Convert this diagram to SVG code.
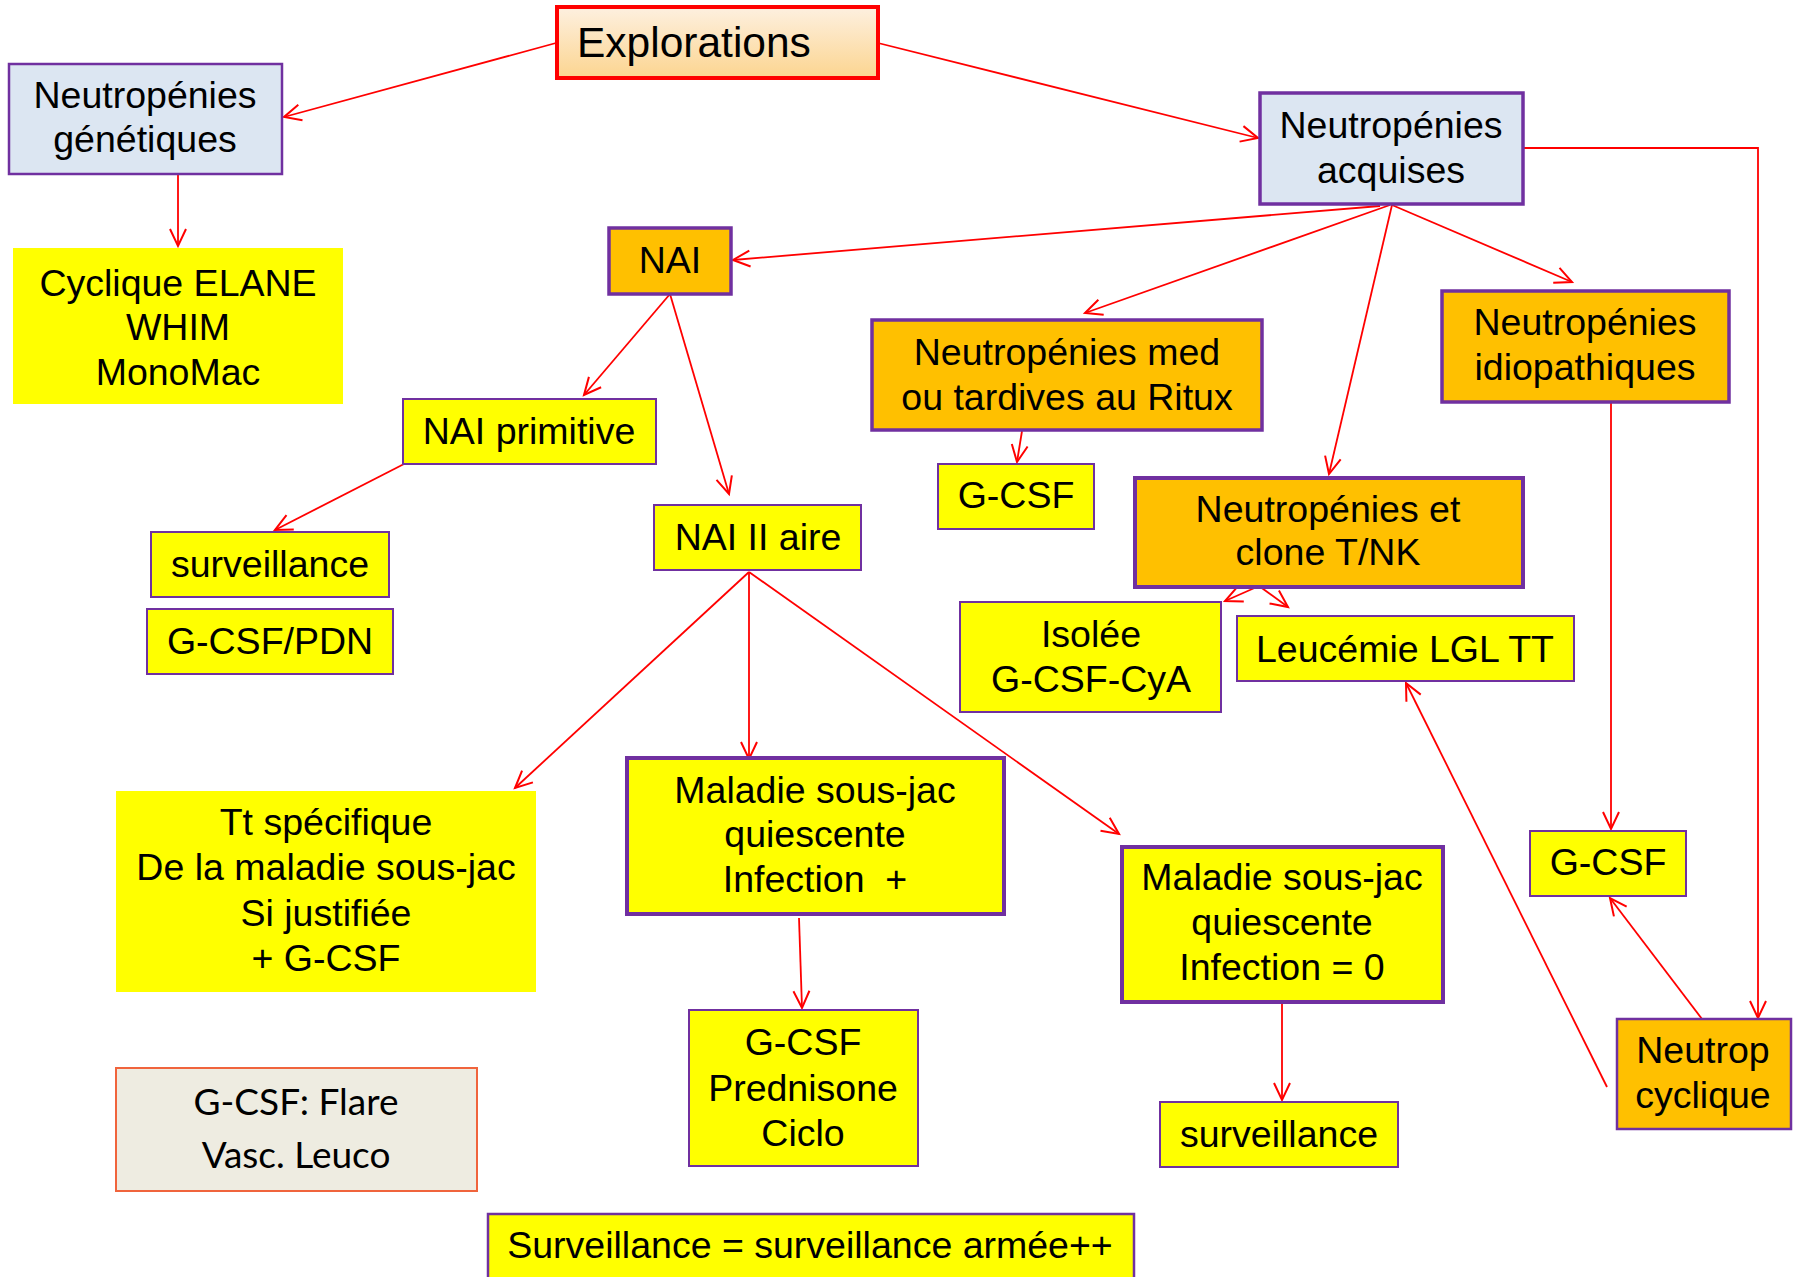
<svg xmlns="http://www.w3.org/2000/svg" width="1794" height="1277" viewBox="0 0 1794 1277">
<style>
text{font-family:"Liberation Sans",Arial,sans-serif;font-size:37.5px;fill:#000;text-anchor:middle}
.blue{fill:#dce6f2;stroke:#7030a0;stroke-width:2.5}
.or{fill:#ffc000;stroke:#7030a0;stroke-width:3.5}
.ye{fill:#ffff00;stroke:#7030a0;stroke-width:2}
.yk{fill:#ffff00;stroke:#7030a0;stroke-width:4}
.yn{fill:#ffff00;stroke:none}
#connectors path{fill:none;stroke:#ff0000;stroke-width:1.8;marker-end:url(#ah)}
</style>
<defs>
<linearGradient id="gx" x1="0" y1="0" x2="0" y2="1">
<stop offset="0" stop-color="#fdf0e0"/>
<stop offset="1" stop-color="#fcd590"/>
</linearGradient>
<marker id="ah" viewBox="-20 -12 24 24" markerWidth="24" markerHeight="24" refX="0" refY="0" orient="auto" markerUnits="userSpaceOnUse">
<path d="M-17,-8 L0,0 L-17,8" fill="none" stroke="#ff0000" stroke-width="2"/>
</marker>
</defs>
<rect width="1794" height="1277" fill="#ffffff"/>

<g id="connectors">
<path d="M556,43 L284,117"/>
<path d="M878,43 L1258,138"/>
<path d="M178,174 L178,246"/>
<path d="M1380,206 L733,260"/>
<path d="M1390,205 L1085,313"/>
<path d="M1392,205 L1329,474"/>
<path d="M1392,205 L1572,282"/>
<path d="M1523,148 H1758 V1018"/>
<path d="M1611,402 V829"/>
<path d="M1702,1019 L1610,898"/>
<path d="M1607,1087 L1406,683"/>
<path d="M1022,431 L1017,462"/>
<path d="M1259,586 L1225,601"/>
<path d="M1259,586 L1288,607"/>
<path d="M670,294 L584,395"/>
<path d="M670,294 L729,494"/>
<path d="M404,464 L275,530"/>
<path d="M749,572 L515,788"/>
<path d="M749,572 L749,759"/>
<path d="M749,572 L1119,834"/>
<path d="M799,918 L802,1008"/>
<path d="M1282,1002 L1282,1100"/>
</g>

<g id="explorations">
<rect x="557" y="7" width="321" height="71" fill="url(#gx)" stroke="#ff0000" stroke-width="4"/>
<text x="577" y="57" style="text-anchor:start;font-size:42.5px">Explorations</text>
</g>
<g id="genetiques">
<rect class="blue" x="9" y="64" width="273" height="110"/>
<text x="145" y="108">Neutropénies</text>
<text x="145" y="152">génétiques</text>
</g>
<g id="cyclique-elane">
<rect class="yn" x="13" y="248" width="330" height="156"/>
<text x="178" y="296">Cyclique ELANE</text>
<text x="178" y="340">WHIM</text>
<text x="178" y="385">MonoMac</text>
</g>
<g id="acquises">
<rect class="blue" x="1260" y="93" width="263" height="111" style="stroke-width:3.5"/>
<text x="1391" y="138">Neutropénies</text>
<text x="1391" y="183">acquises</text>
</g>
<g id="nai">
<rect class="or" x="609" y="228" width="122" height="66"/>
<text x="670" y="273">NAI</text>
</g>
<g id="med">
<rect class="or" x="872" y="320" width="390" height="110"/>
<text x="1067" y="365">Neutropénies med</text>
<text x="1067" y="410">ou tardives au Ritux</text>
</g>
<g id="idiopathiques">
<rect class="or" x="1442" y="291" width="287" height="111"/>
<text x="1585" y="335">Neutropénies</text>
<text x="1585" y="380">idiopathiques</text>
</g>
<g id="nai-primitive">
<rect class="ye" x="403" y="399" width="253" height="65"/>
<text x="529" y="444">NAI primitive</text>
</g>
<g id="nai-secondaire">
<rect class="ye" x="654" y="505" width="207" height="65"/>
<text x="758" y="550">NAI II aire</text>
</g>
<g id="surveillance-1">
<rect class="ye" x="151" y="532" width="238" height="65"/>
<text x="270" y="577">surveillance</text>
</g>
<g id="gcsf-pdn">
<rect class="ye" x="147" y="609" width="246" height="65"/>
<text x="270" y="654">G-CSF/PDN</text>
</g>
<g id="gcsf-med">
<rect class="ye" x="938" y="464" width="156" height="65"/>
<text x="1016" y="508">G-CSF</text>
</g>
<g id="clone">
<rect class="or" x="1135" y="478" width="388" height="109" style="stroke-width:4"/>
<text x="1328" y="522">Neutropénies et</text>
<text x="1328" y="565">clone T/NK</text>
</g>
<g id="isolee">
<rect class="ye" x="960" y="602" width="261" height="110"/>
<text x="1091" y="647">Isolée</text>
<text x="1091" y="692">G-CSF-CyA</text>
</g>
<g id="leucemie">
<rect class="ye" x="1237" y="616" width="337" height="65"/>
<text x="1405" y="662">Leucémie LGL TT</text>
</g>
<g id="tt-specifique">
<rect class="yn" x="116" y="791" width="420" height="201"/>
<text x="326" y="835">Tt spécifique</text>
<text x="326" y="880">De la maladie sous-jac</text>
<text x="326" y="926">Si justifiée</text>
<text x="326" y="971">+ G-CSF</text>
</g>
<g id="maladie-infection-plus">
<rect class="yk" x="627" y="758" width="377" height="156"/>
<text x="815" y="803">Maladie sous-jac</text>
<text x="815" y="847">quiescente</text>
<text x="815" y="892">Infection &#160;+</text>
</g>
<g id="maladie-infection-zero">
<rect class="yk" x="1122" y="847" width="321" height="155"/>
<text x="1282" y="890">Maladie sous-jac</text>
<text x="1282" y="935">quiescente</text>
<text x="1282" y="980">Infection = 0</text>
</g>
<g id="gcsf-prednisone-ciclo">
<rect class="ye" x="689" y="1010" width="229" height="156"/>
<text x="803" y="1055">G-CSF</text>
<text x="803" y="1101">Prednisone</text>
<text x="803" y="1146">Ciclo</text>
</g>
<g id="surveillance-2">
<rect class="ye" x="1160" y="1102" width="238" height="65"/>
<text x="1279" y="1147">surveillance</text>
</g>
<g id="gcsf-right">
<rect class="ye" x="1530" y="831" width="156" height="65"/>
<text x="1608" y="875">G-CSF</text>
</g>
<g id="neutrop-cyclique">
<rect class="or" x="1617" y="1019" width="174" height="110" style="stroke-width:2.5"/>
<text x="1703" y="1063">Neutrop</text>
<text x="1703" y="1108">cyclique</text>
</g>
<g id="flare">
<rect x="116" y="1068" width="361" height="123" fill="#eeece1" stroke="#f0643c" stroke-width="2"/>
<text x="296" y="1115" style="font-family:Lato,'Open Sans',sans-serif;font-size:37px">G-CSF: Flare</text>
<text x="296" y="1168" style="font-family:Lato,'Open Sans',sans-serif;font-size:37px">Vasc. Leuco</text>
</g>
<g id="surveillance-armee">
<rect class="ye" x="488" y="1214" width="646" height="75" style="stroke-width:2.5"/>
<text x="810" y="1258">Surveillance = surveillance armée++</text>
</g>
</svg>
